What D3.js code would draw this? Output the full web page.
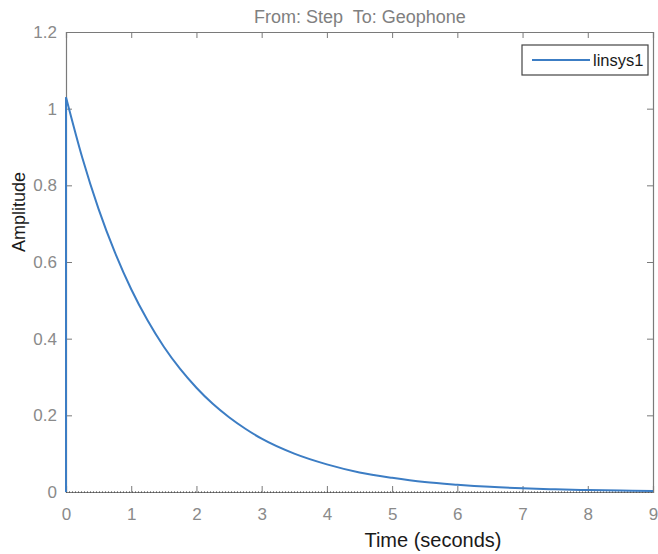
<!DOCTYPE html>
<html>
<head>
<meta charset="utf-8">
<script src="https://cdn.jsdelivr.net/npm/d3@7"></script>
<style>
  body { margin: 0; background: #fff; }
  svg { font-family: "Liberation Sans", Arial, sans-serif; }
</style>
</head>
<body>
<div id="chart"></div>
<script>
// step response
var times = [0, 0.25, 0.5, 0.75, 1, 1.25, 1.5, 1.75, 2, 2.25, 2.5, 2.75, 3, 3.5, 4, 4.5, 5, 5.5, 6, 6.5, 7, 7.5, 8, 8.5, 9];
var amplitude = [1.03, 0.872, 0.738, 0.625, 0.529, 0.448, 0.379, 0.321, 0.272, 0.230, 0.195, 0.165, 0.139, 0.100, 0.072, 0.051, 0.037, 0.026, 0.019, 0.0135, 0.0097, 0.007, 0.005, 0.0036, 0.0026];
var xTicks = [0, 1, 2, 3, 4, 5, 6, 7, 8, 9];
var yTicks = [0, 0.2, 0.4, 0.6, 0.8, 1, 1.2];
var seriesName = "linsys1";

var W = 658, H = 554;
var margin = {top: 32, right: 5, bottom: 62, left: 66},
	width = W - margin.left - margin.right,
	height = H - margin.top - margin.bottom;

var x = d3.scaleLinear().domain([0, 9]).range([0, width]),
	y = d3.scaleLinear().domain([0, 1.2]).range([height, 0]);

var svg = d3.select("#chart").append("svg")
	.attr("width", W)
	.attr("height", H);

var g = svg.append("g")
	.attr("transform", "translate(" + margin.left + "," + margin.top + ")");

var axisColor = "#7a7a7a";
var lineColor = "#3c7dc4";

// axes (ticks pointing inward like matlab)
var xAxis = g.append("g")
	.attr("transform", "translate(0," + height + ")")
	.call(d3.axisBottom(x).tickValues(xTicks).tickSize(-6).tickPadding(16).tickFormat(d3.format("d")));
var xTop = g.append("g")
	.call(d3.axisTop(x).tickValues(xTicks).tickSize(-6).tickFormat(""));
var yAxis = g.append("g")
	.call(d3.axisLeft(y).tickValues(yTicks).tickSize(-6).tickPadding(9).tickFormat(function(d) { return d3.format("")(+d.toFixed(1)); }));
var yRight = g.append("g")
	.attr("transform", "translate(" + width + ",0)")
	.call(d3.axisRight(y).tickValues(yTicks).tickSize(-6).tickFormat(""));

[xAxis, xTop, yAxis, yRight].forEach(function(a) {
	a.select(".domain").attr("stroke", axisColor).attr("stroke-width", 1.2);
	a.selectAll(".tick line").attr("stroke", axisColor);
	a.selectAll(".tick text").attr("fill", "#8a8a8a").style("font-size", "17px");
});

// steady state dotted line
g.append("line")
	.attr("x1", 0).attr("x2", width)
	.attr("y1", y(0)).attr("y2", y(0))
	.attr("stroke", "#333")
	.attr("stroke-width", 1)
	.attr("stroke-dasharray", "1,2");

// response line, plus the jump at t=0
var line = d3.line()
	.x(function(d, i) { return x(times[i]); })
	.y(function(d) { return y(d); })
	.curve(d3.curveMonotoneX);

g.append("path")
	.datum(amplitude)
	.attr("fill", "none")
	.attr("stroke", lineColor)
	.attr("stroke-width", 2)
	.attr("d", line);
g.append("line")
	.attr("x1", x(0)).attr("x2", x(0))
	.attr("y1", y(0)).attr("y2", y(amplitude[0]))
	.attr("stroke", lineColor)
	.attr("stroke-width", 2);

// title
svg.append("text")
	.attr("x", 360).attr("y", 23)
	.attr("text-anchor", "middle")
	.attr("fill", "#808080")
	.style("font-size", "18px")
	.style("white-space", "pre")
	.text("From: Step  To: Geophone");

// axis labels
svg.append("text")
	.attr("x", 433).attr("y", 547)
	.attr("text-anchor", "middle")
	.attr("fill", "#1a1a1a")
	.style("font-size", "20px")
	.text("Time (seconds)");
svg.append("text")
	.attr("transform", "translate(25,212) rotate(-90)")
	.attr("text-anchor", "middle")
	.attr("fill", "#1a1a1a")
	.style("font-size", "18px")
	.text("Amplitude");

// legend
var leg = svg.append("g").attr("transform", "translate(522,45)");
leg.append("rect")
	.attr("width", 126).attr("height", 30)
	.attr("fill", "#fff")
	.attr("stroke", "#444")
	.attr("stroke-width", 1.2);
leg.append("line")
	.attr("x1", 10).attr("x2", 68)
	.attr("y1", 15).attr("y2", 15)
	.attr("stroke", lineColor)
	.attr("stroke-width", 2);
leg.append("text")
	.attr("x", 71).attr("y", 21)
	.attr("fill", "#1a1a1a")
	.style("font-size", "16.5px")
	.text(seriesName);
</script>
</body>
</html>
